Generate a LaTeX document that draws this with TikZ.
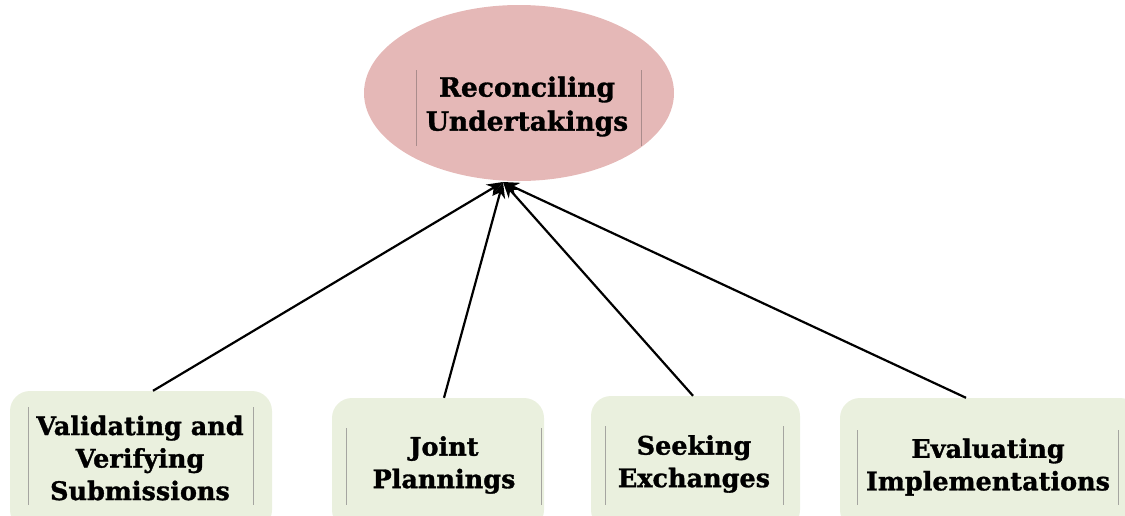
\documentclass[tikz,border=0pt]{standalone}
\usepackage{fontspec}
\setmainfont{DejaVu Serif}[BoldFeatures={FakeBold=1.2}]
\usetikzlibrary{arrows.meta,shapes.geometric}
\definecolor{rosefill}{RGB}{229,184,183}
\definecolor{sagefill}{RGB}{234,240,222}
\definecolor{rulegray}{RGB}{165,165,160}
\definecolor{rulerose}{RGB}{170,140,140}
\tikzset{
  goal/.style={ellipse, fill=rosefill, draw=none, inner sep=0pt,
    minimum width=310pt, minimum height=176pt},
  stepbox/.style={rectangle, rounded corners=20pt, fill=sagefill, draw=none,
    inner sep=0pt},
  goaltext/.style={align=center, font=\fontsize{26.5}{34}\selectfont\bfseries},
  boxtext/.style={align=center, font=\fontsize{25.5}{32.5}\selectfont\bfseries},
  rule/.style={line width=0.9pt},
  link/.style={line width=2.2pt, -{Stealth[length=16pt,width=13pt]}},
}
\begin{document}
\begin{tikzpicture}[x=1pt,y=-1pt]
\useasboundingbox (0,0) rectangle (1125,515);
\clip (0,0) rectangle (1125,515);

% central goal
\node[goal] (goal) at (519,93) {};
\node[goaltext] (goalt) at (527,106.5) {Reconciling\\Undertakings};
\draw[rule, rulerose] (416,70) -- (416,146);
\draw[rule, rulerose] (641,70) -- (641,146);
\coordinate (tip) at (503,182);

% contributing activities
\node[stepbox, minimum width=262pt, minimum height=139pt] (b1) at (141,460.5) {};
\node[boxtext] (t1) at (140,458) {Validating and\\Verifying\\Submissions};
\draw[rule, rulegray] (28,407) -- (28,505);
\draw[rule, rulegray] (253,407) -- (253,505);

\node[stepbox, minimum width=212pt, minimum height=132pt] (b2) at (438,464) {};
\node[boxtext] (t2) at (444,465) {Joint\\Plannings};
\draw[rule, rulegray] (346,428) -- (346,505);
\draw[rule, rulegray] (541,428) -- (541,505);

\node[stepbox, minimum width=209pt, minimum height=134pt] (b3) at (695.5,463) {};
\node[boxtext] (t3) at (694,464) {Seeking\\Exchanges};
\draw[rule, rulegray] (605,426) -- (605,505);
\draw[rule, rulegray] (783,426) -- (783,505);

\node[stepbox, minimum width=300pt, minimum height=132pt] (b4) at (990,464) {};
\node[boxtext] (t4) at (988,467) {Evaluating\\Implementations};
\draw[rule, rulegray] (857,430) -- (857,505);
\draw[rule, rulegray] (1118,430) -- (1118,505);

% connectors
\draw[link] ([xshift=12pt]b1.north) -- (tip);
\draw[link] ([xshift=6pt]b2.north) -- (tip);
\draw[link] ([xshift=-2.5pt]b3.north) -- (tip);
\draw[link] ([xshift=-24pt]b4.north) -- (tip);
\end{tikzpicture}
\end{document}
